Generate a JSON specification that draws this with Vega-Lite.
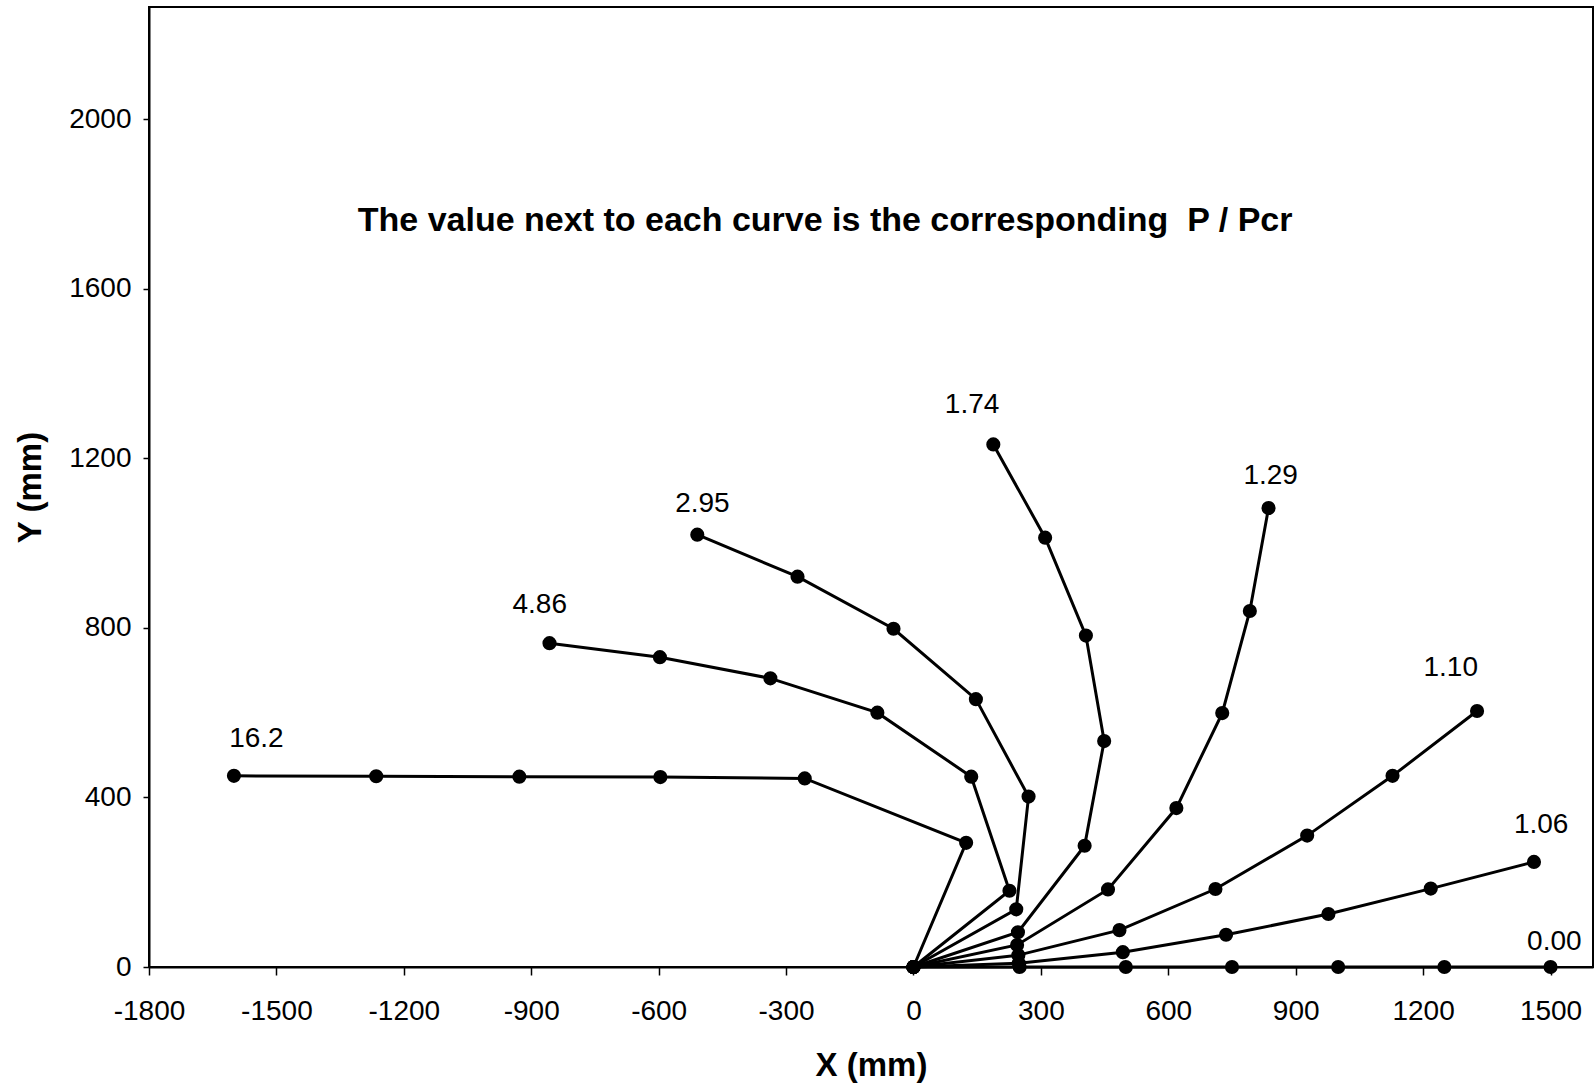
{
  "$schema": "https://vega.github.io/schema/vega-lite/v6.json",
  "width": 1444,
  "height": 960,
  "autosize": {"type": "none"},
  "padding": {"left": 149, "top": 7, "right": 1, "bottom": 120},
  "background": "white",
  "config": {
    "font": "Liberation Sans",
    "view": {"stroke": "black", "strokeWidth": 2},
    "axis": {
      "grid": false,
      "domainColor": "black",
      "domainWidth": 2,
      "tickColor": "black",
      "tickWidth": 1.5,
      "labelColor": "black",
      "labelFontSize": 28,
      "labelFont": "Liberation Sans",
      "labelOverlap": false,
      "labelFlush": false,
      "titleColor": "black",
      "titleFont": "Liberation Sans",
      "titleFontSize": 33,
      "titleFontWeight": "bold",
      "labelExpr": "datum.value + ''"
    }
  },
  "datasets": {
    "curves": [
      {"P": "0.00", "i": 0, "x": 0, "y": 0},
      {"P": "0.00", "i": 1, "x": 250, "y": 0},
      {"P": "0.00", "i": 2, "x": 500, "y": 0},
      {"P": "0.00", "i": 3, "x": 750, "y": 0},
      {"P": "0.00", "i": 4, "x": 1000, "y": 0},
      {"P": "0.00", "i": 5, "x": 1250, "y": 0},
      {"P": "0.00", "i": 6, "x": 1500, "y": 0},
      {"P": "1.06", "i": 0, "x": 0, "y": 0},
      {"P": "1.06", "i": 1, "x": 248, "y": 9},
      {"P": "1.06", "i": 2, "x": 493, "y": 35},
      {"P": "1.06", "i": 3, "x": 736, "y": 76},
      {"P": "1.06", "i": 4, "x": 977, "y": 125},
      {"P": "1.06", "i": 5, "x": 1218, "y": 185},
      {"P": "1.06", "i": 6, "x": 1461, "y": 248},
      {"P": "1.10", "i": 0, "x": 0, "y": 0},
      {"P": "1.10", "i": 1, "x": 247, "y": 28},
      {"P": "1.10", "i": 2, "x": 485, "y": 87},
      {"P": "1.10", "i": 3, "x": 711, "y": 184},
      {"P": "1.10", "i": 4, "x": 927, "y": 310},
      {"P": "1.10", "i": 5, "x": 1128, "y": 451},
      {"P": "1.10", "i": 6, "x": 1327, "y": 604},
      {"P": "1.29", "i": 0, "x": 0, "y": 0},
      {"P": "1.29", "i": 1, "x": 244, "y": 52},
      {"P": "1.29", "i": 2, "x": 458, "y": 183},
      {"P": "1.29", "i": 3, "x": 619, "y": 375},
      {"P": "1.29", "i": 4, "x": 727, "y": 599},
      {"P": "1.29", "i": 5, "x": 792, "y": 840},
      {"P": "1.29", "i": 6, "x": 836, "y": 1083},
      {"P": "1.74", "i": 0, "x": 0, "y": 0},
      {"P": "1.74", "i": 1, "x": 246, "y": 82},
      {"P": "1.74", "i": 2, "x": 403, "y": 286},
      {"P": "1.74", "i": 3, "x": 449, "y": 533},
      {"P": "1.74", "i": 4, "x": 406, "y": 782},
      {"P": "1.74", "i": 5, "x": 310, "y": 1013},
      {"P": "1.74", "i": 6, "x": 188, "y": 1233},
      {"P": "2.95", "i": 0, "x": 0, "y": 0},
      {"P": "2.95", "i": 1, "x": 242, "y": 136},
      {"P": "2.95", "i": 2, "x": 271, "y": 402},
      {"P": "2.95", "i": 3, "x": 147, "y": 632},
      {"P": "2.95", "i": 4, "x": -47, "y": 798},
      {"P": "2.95", "i": 5, "x": -273, "y": 921},
      {"P": "2.95", "i": 6, "x": -509, "y": 1020},
      {"P": "4.86", "i": 0, "x": 0, "y": 0},
      {"P": "4.86", "i": 1, "x": 226, "y": 180},
      {"P": "4.86", "i": 2, "x": 136, "y": 449},
      {"P": "4.86", "i": 3, "x": -85, "y": 600},
      {"P": "4.86", "i": 4, "x": -337, "y": 681},
      {"P": "4.86", "i": 5, "x": -597, "y": 731},
      {"P": "4.86", "i": 6, "x": -857, "y": 764},
      {"P": "16.2", "i": 0, "x": 0, "y": 0},
      {"P": "16.2", "i": 1, "x": 124, "y": 293},
      {"P": "16.2", "i": 2, "x": -256, "y": 445},
      {"P": "16.2", "i": 3, "x": -596, "y": 448},
      {"P": "16.2", "i": 4, "x": -928, "y": 449},
      {"P": "16.2", "i": 5, "x": -1265, "y": 450},
      {"P": "16.2", "i": 6, "x": -1600, "y": 451}
    ],
    "labels": [
      {"P": "16.2", "lx": -1547, "ly": 538},
      {"P": "4.86", "lx": -880, "ly": 854},
      {"P": "2.95", "lx": -497, "ly": 1092},
      {"P": "1.74", "lx": 138, "ly": 1325},
      {"P": "1.29", "lx": 841, "ly": 1159},
      {"P": "1.10", "lx": 1265, "ly": 706},
      {"P": "1.06", "lx": 1478, "ly": 334},
      {"P": "0.00", "lx": 1509, "ly": 60}
    ]
  },
  "layer": [
    {
      "data": {"name": "curves"},
      "mark": {"type": "line", "color": "black", "strokeWidth": 3},
      "encoding": {
        "x": {
          "field": "x",
          "type": "quantitative",
          "scale": {"domain": [-1800, 1600], "nice": false, "zero": false},
          "axis": {
            "title": "X (mm)",
            "values": [-1800, -1500, -1200, -900, -600, -300, 0, 300, 600, 900, 1200, 1500],
            "tickSize": 8,
            "labelPadding": 22,
            "titlePadding": 24
          }
        },
        "y": {
          "field": "y",
          "type": "quantitative",
          "scale": {"domain": [0, 2265], "nice": false, "zero": false},
          "axis": {
            "title": "Y (mm)",
            "values": [0, 400, 800, 1200, 1600, 2000],
            "tickSize": 6,
            "labelPadding": 12,
            "titlePadding": 21
          }
        },
        "detail": {"field": "P"},
        "order": {"field": "i", "type": "quantitative"}
      }
    },
    {
      "data": {"name": "curves"},
      "mark": {"type": "point", "filled": true, "color": "black", "size": 200, "opacity": 1},
      "encoding": {
        "x": {"field": "x", "type": "quantitative"},
        "y": {"field": "y", "type": "quantitative"}
      }
    },
    {
      "data": {"name": "labels"},
      "mark": {"type": "text", "fontSize": 28, "color": "black", "align": "center", "baseline": "middle"},
      "encoding": {
        "x": {"field": "lx", "type": "quantitative"},
        "y": {"field": "ly", "type": "quantitative"},
        "text": {"field": "P"}
      }
    },
    {
      "data": {"values": [{}]},
      "mark": {
        "type": "text",
        "fontSize": 34,
        "fontWeight": "bold",
        "color": "black",
        "align": "center",
        "baseline": "middle",
        "text": "The value next to each curve is the corresponding\u00a0 P / Pcr"
      },
      "encoding": {
        "x": {"datum": -208},
        "y": {"datum": 1761}
      }
    }
  ]
}
